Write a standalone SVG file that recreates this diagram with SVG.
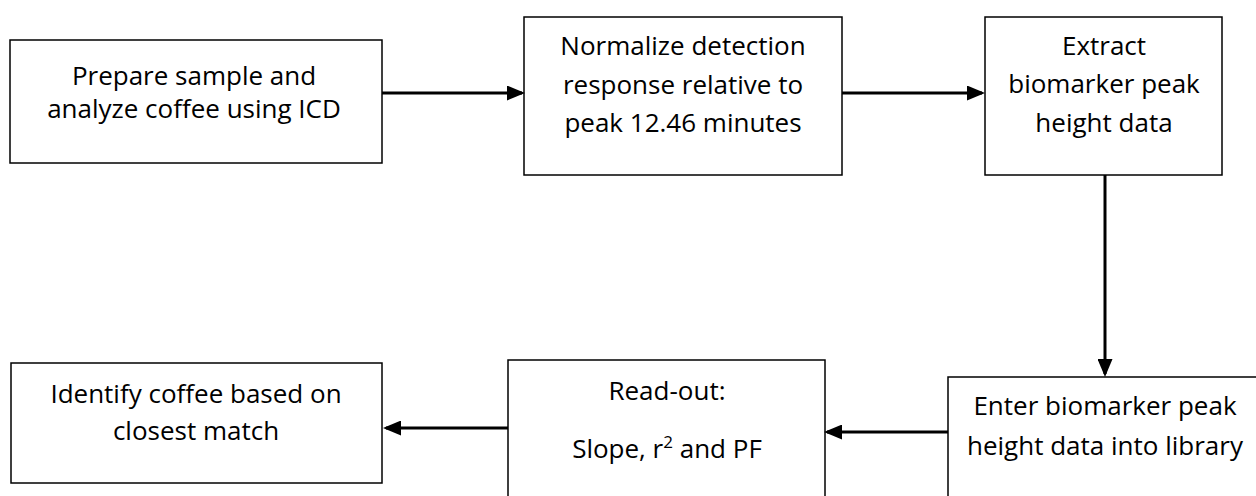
<svg xmlns="http://www.w3.org/2000/svg" width="1256" height="496" viewBox="0 0 1256 496">
<style>
.box{fill:#fff;stroke:#000;stroke-width:1.5}
.t{font-family:"Open Sans","Liberation Sans",sans-serif;font-size:26px;fill:#000;text-anchor:middle}
.c{stroke:#000;stroke-width:3;fill:none;marker-end:url(#ah)}
</style>
<defs>
<marker id="ah" markerWidth="6" markerHeight="5" refX="5" refY="2.5" orient="auto" markerUnits="strokeWidth">
<path d="M0,0 L6,2.5 L0,5 Z" fill="#000"/>
</marker>
</defs>
<rect width="1256" height="496" fill="#fff"/>
<g id="n1"><rect class="box" x="10" y="40" width="372" height="123"/>
<text class="t" x="194" y="85">Prepare sample and</text>
<text class="t" x="194" y="118">analyze coffee using ICD</text></g>
<g id="n2"><rect class="box" x="524" y="17" width="318" height="158"/>
<text class="t" x="683" y="55">Normalize detection</text>
<text class="t" x="683" y="94">response relative to</text>
<text class="t" x="683" y="132">peak 12.46 minutes</text></g>
<g id="n3"><rect class="box" x="985" y="17" width="237" height="158"/>
<text class="t" x="1104" y="55">Extract</text>
<text class="t" x="1104" y="93">biomarker peak</text>
<text class="t" x="1104" y="132">height data</text></g>
<g id="n4"><rect class="box" x="948" y="377" width="320" height="130"/>
<text class="t" x="1105" y="415">Enter biomarker peak</text>
<text class="t" x="1105" y="455">height data into library</text></g>
<g id="n5"><rect class="box" x="508" y="360" width="317" height="150"/>
<text class="t" x="667" y="400">Read-out:</text>
<text class="t" x="667" y="458">Slope, r<tspan dy="-10" font-size="17">2</tspan><tspan dy="10"> and PF</tspan></text></g>
<g id="n6"><rect class="box" x="11" y="363" width="371" height="120"/>
<text class="t" x="196" y="403">Identify coffee based on</text>
<text class="t" x="196" y="440">closest match</text></g>
<g id="connectors">
<line class="c" x1="382" y1="93" x2="522" y2="93"/>
<line class="c" x1="842" y1="93" x2="982" y2="93"/>
<line class="c" x1="1105" y1="175" x2="1105" y2="374"/>
<line class="c" x1="948" y1="432" x2="827" y2="432"/>
<line class="c" x1="508" y1="428" x2="386" y2="428"/>
</g>
</svg>
